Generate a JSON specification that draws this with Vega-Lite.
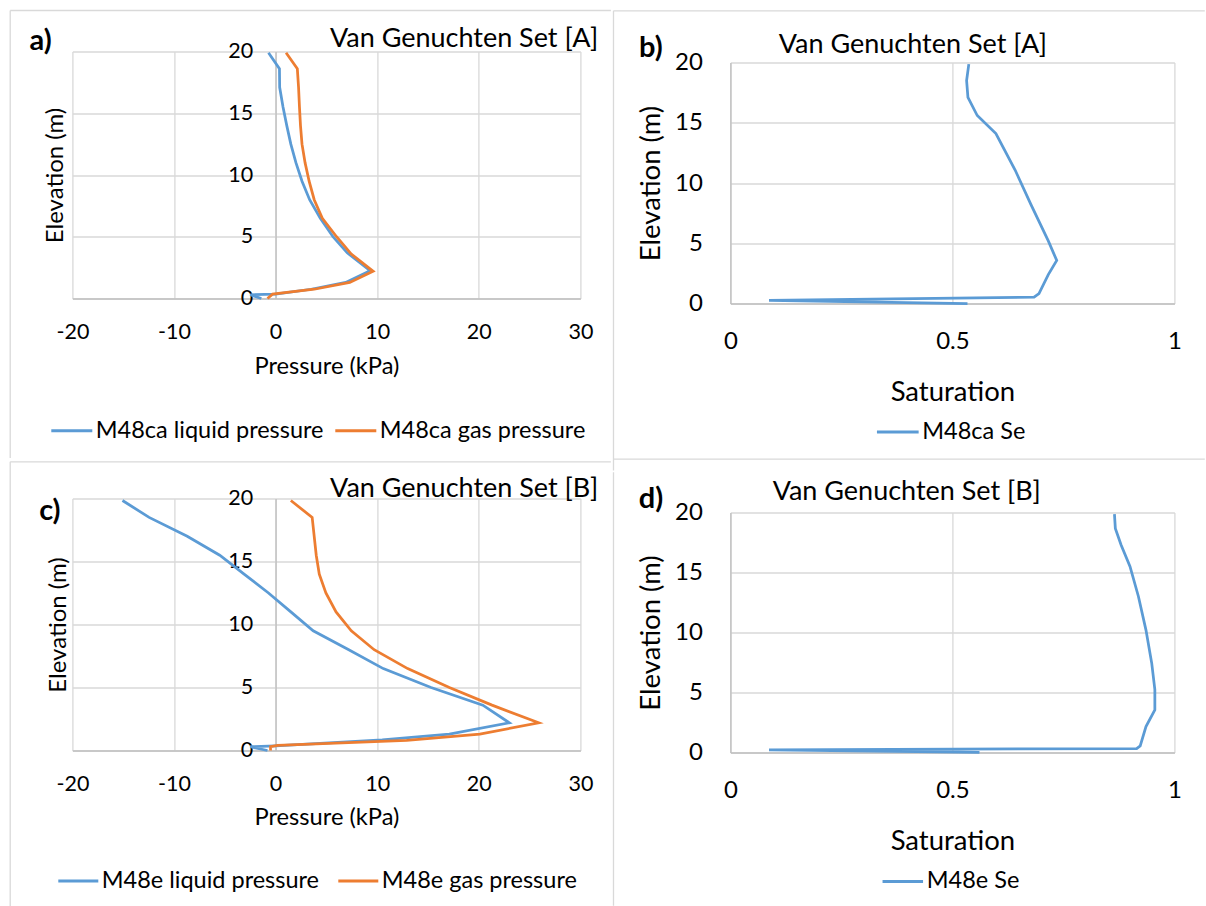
{
  "$schema": "https://vega.github.io/schema/vega-lite/v6.json",
  "background": "white",
  "padding": {"left": 1.4, "top": 8.5, "right": 0, "bottom": 0},
  "columns": 2,
  "spacing": 0,
  "align": "none",
  "bounds": "full",
  "resolve": {"scale": {"color": "independent"}, "legend": {"color": "independent"}},
  "config": {
    "font": "Lato",
    "view": {"stroke": null},
    "axis": {
      "grid": true,
      "gridColor": "#d9d9d9",
      "gridWidth": 1.3,
      "domainColor": "#bfbfbf",
      "domainWidth": 1.3,
      "ticks": false,
      "labelColor": "#000000",
      "titleColor": "#000000",
      "titleFontWeight": "normal",
      "labelFlush": false,
      "labelOverlap": false
    },
    "legend": {
      "symbolType": "stroke",
      "symbolStrokeWidth": 3,
      "labelColor": "#000000",
      "labelLimit": 400,
      "direction": "horizontal",
      "orient": "none"
    },
    "rule": {"color": "#d9d9d9", "strokeWidth": 1.3},
    "text": {"color": "#000000"}
  },
  "datasets": {
    "pressureA": [
      {"series": "M48ca liquid pressure", "elev": 19.9, "kPa": -0.7},
      {"series": "M48ca liquid pressure", "elev": 18.6, "kPa": 0.38},
      {"series": "M48ca liquid pressure", "elev": 17.1, "kPa": 0.4},
      {"series": "M48ca liquid pressure", "elev": 15.5, "kPa": 0.73},
      {"series": "M48ca liquid pressure", "elev": 14.0, "kPa": 1.1},
      {"series": "M48ca liquid pressure", "elev": 12.5, "kPa": 1.5},
      {"series": "M48ca liquid pressure", "elev": 11.0, "kPa": 2.0},
      {"series": "M48ca liquid pressure", "elev": 9.5, "kPa": 2.6},
      {"series": "M48ca liquid pressure", "elev": 8.0, "kPa": 3.35},
      {"series": "M48ca liquid pressure", "elev": 6.5, "kPa": 4.4},
      {"series": "M48ca liquid pressure", "elev": 5.0, "kPa": 5.65},
      {"series": "M48ca liquid pressure", "elev": 3.7, "kPa": 7.05},
      {"series": "M48ca liquid pressure", "elev": 2.25, "kPa": 9.3},
      {"series": "M48ca liquid pressure", "elev": 1.3, "kPa": 6.9},
      {"series": "M48ca liquid pressure", "elev": 0.75, "kPa": 3.5},
      {"series": "M48ca liquid pressure", "elev": 0.35, "kPa": 0.0},
      {"series": "M48ca liquid pressure", "elev": 0.3, "kPa": -2.5},
      {"series": "M48ca liquid pressure", "elev": 0.0, "kPa": -1.4},
      {"series": "M48ca gas pressure", "elev": 19.9, "kPa": 1.03},
      {"series": "M48ca gas pressure", "elev": 18.6, "kPa": 2.14},
      {"series": "M48ca gas pressure", "elev": 17.1, "kPa": 2.26},
      {"series": "M48ca gas pressure", "elev": 15.5, "kPa": 2.35},
      {"series": "M48ca gas pressure", "elev": 14.0, "kPa": 2.45},
      {"series": "M48ca gas pressure", "elev": 12.5, "kPa": 2.6},
      {"series": "M48ca gas pressure", "elev": 11.0, "kPa": 2.9},
      {"series": "M48ca gas pressure", "elev": 9.5, "kPa": 3.3},
      {"series": "M48ca gas pressure", "elev": 8.0, "kPa": 3.8},
      {"series": "M48ca gas pressure", "elev": 6.5, "kPa": 4.6},
      {"series": "M48ca gas pressure", "elev": 5.0, "kPa": 6.0},
      {"series": "M48ca gas pressure", "elev": 3.6, "kPa": 7.45},
      {"series": "M48ca gas pressure", "elev": 2.2, "kPa": 9.6},
      {"series": "M48ca gas pressure", "elev": 1.3, "kPa": 7.3},
      {"series": "M48ca gas pressure", "elev": 0.75, "kPa": 3.8},
      {"series": "M48ca gas pressure", "elev": 0.35, "kPa": -0.3},
      {"series": "M48ca gas pressure", "elev": 0.0, "kPa": -0.8}
    ],
    "saturationA": [
      {"series": "M48ca Se", "elev": 19.86, "Se": 0.537},
      {"series": "M48ca Se", "elev": 18.5, "Se": 0.532},
      {"series": "M48ca Se", "elev": 17.1, "Se": 0.535},
      {"series": "M48ca Se", "elev": 15.6, "Se": 0.556},
      {"series": "M48ca Se", "elev": 14.1, "Se": 0.598},
      {"series": "M48ca Se", "elev": 11.1, "Se": 0.641},
      {"series": "M48ca Se", "elev": 8.2, "Se": 0.677},
      {"series": "M48ca Se", "elev": 5.2, "Se": 0.716},
      {"series": "M48ca Se", "elev": 3.57, "Se": 0.735},
      {"series": "M48ca Se", "elev": 2.4, "Se": 0.716},
      {"series": "M48ca Se", "elev": 0.83, "Se": 0.695},
      {"series": "M48ca Se", "elev": 0.53, "Se": 0.684},
      {"series": "M48ca Se", "elev": 0.25, "Se": 0.087},
      {"series": "M48ca Se", "elev": 0.0, "Se": 0.534}
    ],
    "pressureB": [
      {"series": "M48e liquid pressure", "elev": 19.84, "kPa": -15.07},
      {"series": "M48e liquid pressure", "elev": 18.5, "kPa": -12.45},
      {"series": "M48e liquid pressure", "elev": 17.0, "kPa": -8.7},
      {"series": "M48e liquid pressure", "elev": 15.5, "kPa": -5.5},
      {"series": "M48e liquid pressure", "elev": 14.0, "kPa": -3.1},
      {"series": "M48e liquid pressure", "elev": 12.5, "kPa": -0.7},
      {"series": "M48e liquid pressure", "elev": 11.0, "kPa": 1.5},
      {"series": "M48e liquid pressure", "elev": 9.5, "kPa": 3.7},
      {"series": "M48e liquid pressure", "elev": 8.0, "kPa": 7.2},
      {"series": "M48e liquid pressure", "elev": 6.5, "kPa": 10.6},
      {"series": "M48e liquid pressure", "elev": 5.0, "kPa": 15.3},
      {"series": "M48e liquid pressure", "elev": 3.6, "kPa": 20.4},
      {"series": "M48e liquid pressure", "elev": 2.2, "kPa": 23.0},
      {"series": "M48e liquid pressure", "elev": 1.3, "kPa": 17.1},
      {"series": "M48e liquid pressure", "elev": 0.85, "kPa": 10.5},
      {"series": "M48e liquid pressure", "elev": 0.37, "kPa": 0.0},
      {"series": "M48e liquid pressure", "elev": 0.3, "kPa": -2.5},
      {"series": "M48e liquid pressure", "elev": 0.0, "kPa": -0.8},
      {"series": "M48e gas pressure", "elev": 19.84, "kPa": 1.5},
      {"series": "M48e gas pressure", "elev": 18.5, "kPa": 3.6},
      {"series": "M48e gas pressure", "elev": 17.0, "kPa": 3.8},
      {"series": "M48e gas pressure", "elev": 15.5, "kPa": 4.0},
      {"series": "M48e gas pressure", "elev": 14.0, "kPa": 4.3},
      {"series": "M48e gas pressure", "elev": 12.5, "kPa": 4.95},
      {"series": "M48e gas pressure", "elev": 11.0, "kPa": 5.95},
      {"series": "M48e gas pressure", "elev": 9.5, "kPa": 7.45},
      {"series": "M48e gas pressure", "elev": 8.0, "kPa": 9.7},
      {"series": "M48e gas pressure", "elev": 6.5, "kPa": 13.0},
      {"series": "M48e gas pressure", "elev": 5.0, "kPa": 17.1},
      {"series": "M48e gas pressure", "elev": 3.6, "kPa": 21.3},
      {"series": "M48e gas pressure", "elev": 2.2, "kPa": 25.9},
      {"series": "M48e gas pressure", "elev": 1.3, "kPa": 20.1},
      {"series": "M48e gas pressure", "elev": 0.8, "kPa": 12.9},
      {"series": "M48e gas pressure", "elev": 0.4, "kPa": 0.2},
      {"series": "M48e gas pressure", "elev": 0.3, "kPa": -0.5},
      {"series": "M48e gas pressure", "elev": 0.0, "kPa": -0.5}
    ],
    "saturationB": [
      {"series": "M48e Se", "elev": 19.86, "Se": 0.865},
      {"series": "M48e Se", "elev": 18.67, "Se": 0.867},
      {"series": "M48e Se", "elev": 17.3, "Se": 0.88},
      {"series": "M48e Se", "elev": 15.5, "Se": 0.9},
      {"series": "M48e Se", "elev": 13.0, "Se": 0.919},
      {"series": "M48e Se", "elev": 10.2, "Se": 0.936},
      {"series": "M48e Se", "elev": 7.43, "Se": 0.949},
      {"series": "M48e Se", "elev": 5.24, "Se": 0.956},
      {"series": "M48e Se", "elev": 3.55, "Se": 0.956},
      {"series": "M48e Se", "elev": 2.16, "Se": 0.936},
      {"series": "M48e Se", "elev": 0.55, "Se": 0.923},
      {"series": "M48e Se", "elev": 0.33, "Se": 0.915},
      {"series": "M48e Se", "elev": 0.22, "Se": 0.087},
      {"series": "M48e Se", "elev": 0.0, "Se": 0.561}
    ]
  },
  "concat": [
    {
      "width": 1,
      "height": 1,
      "data": {"values": [{}]},
      "mark": {"type": "rect", "opacity": 0},
      "encoding": {}
    },
    {
      "width": 1,
      "height": 1,
      "data": {"values": [{}]},
      "mark": {"type": "rect", "opacity": 0},
      "encoding": {}
    },
    {
      "width": 508,
      "height": 247,
      "data": {"values": [{}]},
      "layer": [
        {
          "data": {"name": "pressureA"},
          "mark": {"type": "line", "strokeWidth": 2.75, "clip": false},
          "encoding": {
            "x": {"field": "kPa", "type": "quantitative", "scale": {"domain": [-20, 30], "nice": false},
              "axis": {"title": "Pressure (kPa)", "values": [-20, -10, 0, 10, 20, 30], "labelExpr": "'' + datum.value", "labelFontSize": 21.5, "labelPadding": 23, "titleFontSize": 23.7, "titlePadding": 11}},
            "y": {"field": "elev", "type": "quantitative", "scale": {"domain": [0, 20], "nice": false},
              "axis": {"title": "Elevation (m)", "values": [0, 5, 10, 15, 20], "offset": -203.2, "labelFontSize": 21.5, "labelPadding": 23, "titleFontSize": 24, "titlePadding": 160}},
            "color": {"field": "series", "type": "nominal",
              "scale": {"domain": ["M48ca liquid pressure", "M48ca gas pressure"], "range": ["#5B9BD5", "#ED7D31"]},
              "legend": {"title": null, "legendX": -22.6, "legendY": 357, "symbolSize": 1681, "labelFontSize": 23.5, "labelOffset": 2, "columnPadding": 5}},
            "order": {"field": "elev", "sort": "descending"}
          }
        },
        {
          "mark": {"type": "rect", "opacity": 0, "clip": false},
          "encoding": {"x": {"datum": -26.89, "type": "quantitative"}, "x2": {"datum": 33.0}, "y": {"datum": 23.32, "type": "quantitative"}, "y2": {"datum": -12.91}}
        },
        {
          "mark": {"type": "rule", "clip": false},
          "encoding": {"x": {"datum": -26.122, "type": "quantitative"}, "x2": {"datum": 33.0}, "y": {"datum": 23.32, "type": "quantitative"}}
        },
        {
          "mark": {"type": "rule", "clip": false},
          "encoding": {"x": {"datum": -26.122, "type": "quantitative"}, "y": {"datum": 23.32, "type": "quantitative"}, "y2": {"datum": -12.91}}
        },
        {
          "mark": {"type": "text", "align": "right", "baseline": "alphabetic", "fontSize": 27, "clip": false},
          "encoding": {"x": {"datum": 31.75, "type": "quantitative"}, "y": {"datum": 20.4, "type": "quantitative"}, "text": {"value": "Van Genuchten Set [A]"}}
        },
        {
          "mark": {"type": "text", "align": "center", "baseline": "middle", "fontSize": 29, "fontWeight": "bold", "clip": false},
          "encoding": {"x": {"datum": -23.12, "type": "quantitative"}, "y": {"datum": 20.89, "type": "quantitative"}, "text": {"value": "a)"}}
        }
      ]
    },
    {
      "width": 444,
      "height": 241,
      "data": {"values": [{}]},
      "layer": [
        {
          "data": {"name": "saturationA"},
          "mark": {"type": "line", "strokeWidth": 2.75, "clip": false},
          "encoding": {
            "x": {"field": "Se", "type": "quantitative", "scale": {"domain": [0, 1], "nice": false},
              "axis": {"title": "Saturation", "values": [0, 0.5, 1], "format": "~g", "labelFontSize": 24, "labelPadding": 26, "titleFontSize": 27.5, "titlePadding": 25}},
            "y": {"field": "elev", "type": "quantitative", "scale": {"domain": [0, 20], "nice": false},
              "axis": {"title": "Elevation (m)", "values": [0, 5, 10, 15, 20], "labelFontSize": 24, "labelPadding": 28, "titleFontSize": 27.5, "titlePadding": 9}},
            "color": {"field": "series", "type": "nominal",
              "scale": {"domain": ["M48ca Se"], "range": ["#5B9BD5"]},
              "legend": {"title": null, "legendX": 144.9, "legendY": 347, "symbolSize": 1739, "labelFontSize": 23.5, "labelOffset": 2}},
            "order": {"field": "elev", "sort": "descending"}
          }
        },
        {
          "mark": {"type": "rect", "opacity": 0, "clip": false},
          "encoding": {"x": {"datum": -0.2633, "type": "quantitative"}, "x2": {"datum": 1.0685}, "y": {"datum": 24.29, "type": "quantitative"}, "y2": {"datum": -12.92}}
        },
        {
          "mark": {"type": "rule", "clip": false},
          "encoding": {"x": {"datum": -0.2633, "type": "quantitative"}, "x2": {"datum": 1.0685}, "y": {"datum": 24.29, "type": "quantitative"}}
        },
        {
          "mark": {"type": "rule", "clip": false},
          "encoding": {"x": {"datum": -0.2633, "type": "quantitative"}, "x2": {"datum": 1.0685}, "y": {"datum": -12.92, "type": "quantitative"}}
        },
        {
          "mark": {"type": "rule", "clip": false},
          "encoding": {"x": {"datum": -0.2633, "type": "quantitative"}, "y": {"datum": 24.29, "type": "quantitative"}, "y2": {"datum": -13.86}}
        },
        {
          "mark": {"type": "text", "align": "center", "baseline": "alphabetic", "fontSize": 27, "clip": false},
          "encoding": {"x": {"datum": 0.411, "type": "quantitative"}, "y": {"datum": 20.76, "type": "quantitative"}, "text": {"value": "Van Genuchten Set [A]"}}
        },
        {
          "mark": {"type": "text", "align": "center", "baseline": "middle", "fontSize": 29, "fontWeight": "bold", "clip": false},
          "encoding": {"x": {"datum": -0.179, "type": "quantitative"}, "y": {"datum": 21.22, "type": "quantitative"}, "text": {"value": "b)"}}
        }
      ]
    },
    {
      "width": 508,
      "height": 252,
      "data": {"values": [{}]},
      "layer": [
        {
          "data": {"name": "pressureB"},
          "mark": {"type": "line", "strokeWidth": 2.75, "clip": false},
          "encoding": {
            "x": {"field": "kPa", "type": "quantitative", "scale": {"domain": [-20, 30], "nice": false},
              "axis": {"title": "Pressure (kPa)", "values": [-20, -10, 0, 10, 20, 30], "labelExpr": "'' + datum.value", "labelFontSize": 21.5, "labelPadding": 23, "titleFontSize": 23.7, "titlePadding": 11}},
            "y": {"field": "elev", "type": "quantitative", "scale": {"domain": [0, 20], "nice": false},
              "axis": {"title": "Elevation (m)", "values": [0, 5, 10, 15, 20], "offset": -203.2, "labelFontSize": 21.5, "labelPadding": 23, "titleFontSize": 24, "titlePadding": 157}},
            "color": {"field": "series", "type": "nominal",
              "scale": {"domain": ["M48e liquid pressure", "M48e gas pressure"], "range": ["#5B9BD5", "#ED7D31"]},
              "legend": {"title": null, "legendX": -15.6, "legendY": 361, "symbolSize": 1600, "labelFontSize": 23.5, "labelOffset": 2, "columnPadding": 12}},
            "order": {"field": "elev", "sort": "descending"}
          }
        },
        {
          "mark": {"type": "rect", "opacity": 0, "clip": false},
          "encoding": {"x": {"datum": -26.89, "type": "quantitative"}, "x2": {"datum": 33.0}, "y": {"datum": 22.91, "type": "quantitative"}, "y2": {"datum": -12.46}}
        },
        {
          "mark": {"type": "rule", "clip": false},
          "encoding": {"x": {"datum": -26.122, "type": "quantitative"}, "x2": {"datum": 33.0}, "y": {"datum": 22.91, "type": "quantitative"}}
        },
        {
          "mark": {"type": "rule", "clip": false},
          "encoding": {"x": {"datum": -26.122, "type": "quantitative"}, "y": {"datum": 22.91, "type": "quantitative"}, "y2": {"datum": -12.46}}
        },
        {
          "mark": {"type": "text", "align": "right", "baseline": "alphabetic", "fontSize": 27, "clip": false},
          "encoding": {"x": {"datum": 31.75, "type": "quantitative"}, "y": {"datum": 20.08, "type": "quantitative"}, "text": {"value": "Van Genuchten Set [B]"}}
        },
        {
          "mark": {"type": "text", "align": "center", "baseline": "middle", "fontSize": 29, "fontWeight": "bold", "clip": false},
          "encoding": {"x": {"datum": -22.22, "type": "quantitative"}, "y": {"datum": 18.97, "type": "quantitative"}, "text": {"value": "c)"}}
        }
      ]
    },
    {
      "width": 444,
      "height": 240,
      "data": {"values": [{}]},
      "layer": [
        {
          "data": {"name": "saturationB"},
          "mark": {"type": "line", "strokeWidth": 2.75, "clip": false},
          "encoding": {
            "x": {"field": "Se", "type": "quantitative", "scale": {"domain": [0, 1], "nice": false},
              "axis": {"title": "Saturation", "values": [0, 0.5, 1], "format": "~g", "labelFontSize": 24, "labelPadding": 26, "titleFontSize": 27.5, "titlePadding": 25}},
            "y": {"field": "elev", "type": "quantitative", "scale": {"domain": [0, 20], "nice": false},
              "axis": {"title": "Elevation (m)", "values": [0, 5, 10, 15, 20], "labelFontSize": 24, "labelPadding": 28, "titleFontSize": 27.5, "titlePadding": 9}},
            "color": {"field": "series", "type": "nominal",
              "scale": {"domain": ["M48e Se"], "range": ["#5B9BD5"]},
              "legend": {"title": null, "legendX": 150.4, "legendY": 347, "symbolSize": 1640, "labelFontSize": 23.5, "labelOffset": 2}},
            "order": {"field": "elev", "sort": "descending"}
          }
        },
        {
          "mark": {"type": "rect", "opacity": 0, "clip": false},
          "encoding": {"x": {"datum": -0.2633, "type": "quantitative"}, "x2": {"datum": 1.0685}, "y": {"datum": 23.35, "type": "quantitative"}, "y2": {"datum": -12.78}}
        },
        {
          "mark": {"type": "rule", "clip": false},
          "encoding": {"x": {"datum": -0.2633, "type": "quantitative"}, "y": {"datum": 23.35, "type": "quantitative"}, "y2": {"datum": -12.78}}
        },
        {
          "mark": {"type": "text", "align": "center", "baseline": "alphabetic", "fontSize": 27, "clip": false},
          "encoding": {"x": {"datum": 0.397, "type": "quantitative"}, "y": {"datum": 21.03, "type": "quantitative"}, "text": {"value": "Van Genuchten Set [B]"}}
        },
        {
          "mark": {"type": "text", "align": "center", "baseline": "middle", "fontSize": 29, "fontWeight": "bold", "clip": false},
          "encoding": {"x": {"datum": -0.179, "type": "quantitative"}, "y": {"datum": 21.1, "type": "quantitative"}, "text": {"value": "d)"}}
        }
      ]
    }
  ]
}
